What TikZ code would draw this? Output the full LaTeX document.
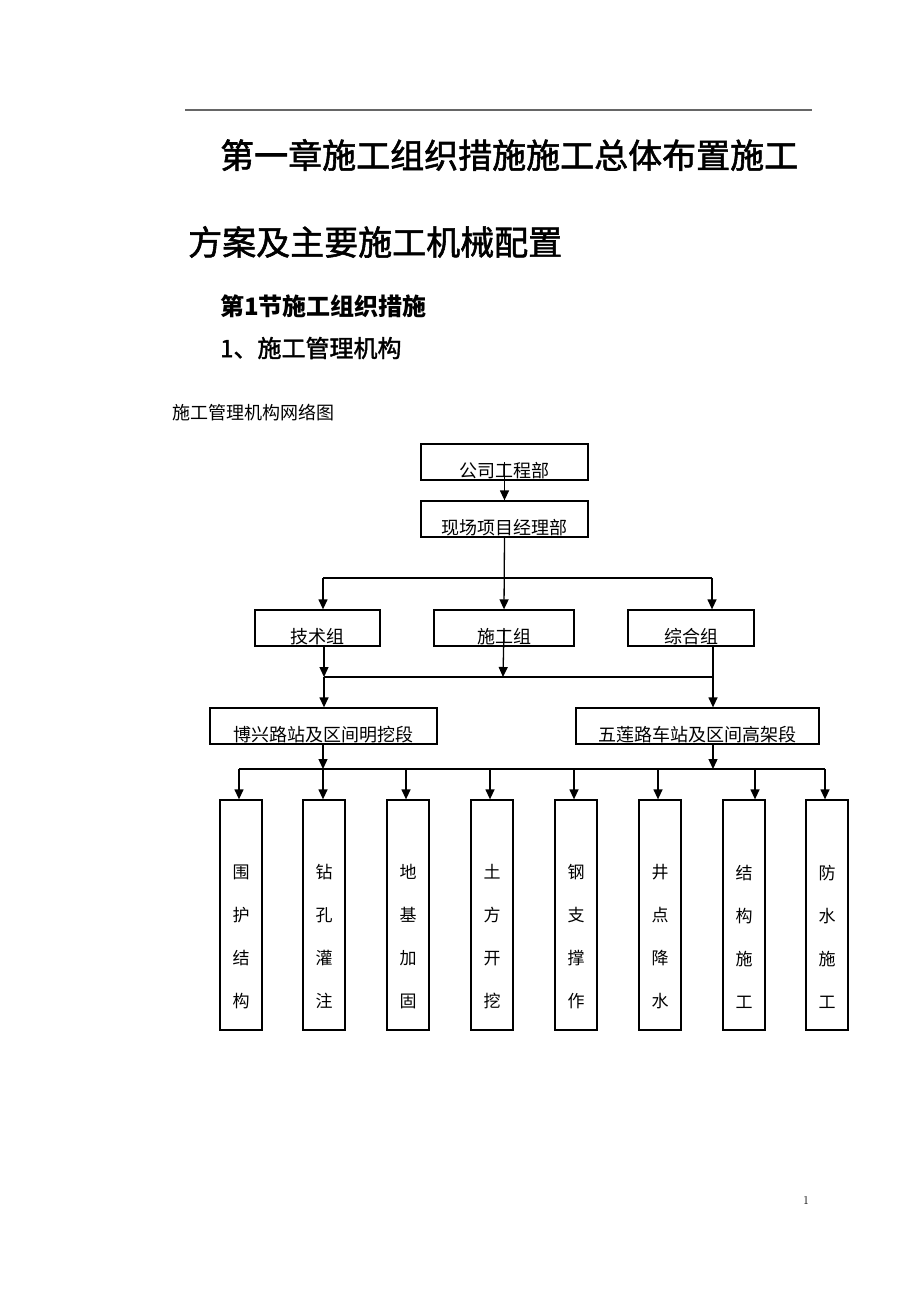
\documentclass[tikz,border=0pt]{standalone}
\usepackage{fontspec}
\newfontfamily\cjk{Noto Sans CJK SC}
\newfontfamily\cjkheavy[FakeBold=1.6]{Noto Sans CJK SC}
\usetikzlibrary{arrows.meta}
\newlength{\du}
\setlength{\du}{1pt}
\definecolor{dialinecolor}{rgb}{0.000000, 0.000000, 0.000000}
\definecolor{rulecolor}{rgb}{0.400000, 0.400000, 0.400000}
\tikzset{
  dialine/.style={draw=dialinecolor, line width=1.300000\du},
  diaarrow/.style={dialine, -{Triangle[width=9pt,length=10pt]}},
  diabox/.style={draw=dialinecolor, line width=1.300000\du, inner sep=0pt, text height=33\du, text depth=3\du, minimum height=36\du, font=\cjk\fontsize{18}{18}\selectfont},
  diacol/.style={draw=dialinecolor, line width=1.300000\du, inner sep=0pt, minimum width=42\du, minimum height=230\du},
  diacoltext/.style={inner sep=0pt, align=center, font=\cjk\fontsize{17}{43}\selectfont},
  diahead/.style={anchor=west, inner sep=0pt}
}
\begin{document}
\begin{tikzpicture}
\pgftransformxscale{1.000000}
\pgftransformyscale{-1.000000}
\useasboundingbox (0\du,0\du) rectangle (920\du,1302\du);
% page rule
\draw[draw=rulecolor, line width=2.000000\du] (185\du,110\du)--(812\du,110\du);
% setfont left to latex
\node[diahead] (title1) at (220\du,155\du){\cjkheavy\fontsize{34}{34}\selectfont 第一章施工组织措施施工总体布置施工};
\node[diahead] (title2) at (188\du,242\du){\cjkheavy\fontsize{34}{34}\selectfont 方案及主要施工机械配置};
\node[diahead] (sect1) at (220\du,306\du){\cjk\bfseries\fontsize{24}{24}\selectfont 第1节施工组织措施};
\node[diahead] (sect2) at (220\du,348\du){\cjkheavy\fontsize{24}{24}\selectfont 1、施工管理机构};
\node[diahead] (caption) at (172\du,413\du){\cjk\fontsize{18}{18}\selectfont 施工管理机构网络图};
\node (pagenum) at (806\du,1200\du){\fontsize{12}{12}\selectfont 1};
% boxes
\node[diabox, minimum width=167\du] (gongsi) at (504.5\du,462\du){公司工程部};
\node[diabox, minimum width=167\du] (xianchang) at (504.5\du,519\du){现场项目经理部};
\node[diabox, minimum width=125\du] (jishu) at (317.5\du,628\du){技术组};
\node[diabox, minimum width=140\du] (shigong) at (504\du,628\du){施工组};
\node[diabox, minimum width=126\du] (zonghe) at (691\du,628\du){综合组};
\node[diabox, minimum width=227\du] (boxing) at (323.5\du,726\du){博兴路站及区间明挖段};
\node[diabox, minimum width=243\du] (wulian) at (697.5\du,726\du){五莲路车站及区间高架段};
\node[diacol] (col1) at (241\du,915\du){};
\node[diacoltext] (txt1) at (241\du,936.5\du){围\\护\\结\\构};
\node[diacol] (col2) at (324\du,915\du){};
\node[diacoltext] (txt2) at (324\du,936.5\du){钻\\孔\\灌\\注};
\node[diacol] (col3) at (408\du,915\du){};
\node[diacoltext] (txt3) at (408\du,936.5\du){地\\基\\加\\固};
\node[diacol] (col4) at (492\du,915\du){};
\node[diacoltext] (txt4) at (492\du,936.5\du){土\\方\\开\\挖};
\node[diacol] (col5) at (576\du,915\du){};
\node[diacoltext] (txt5) at (576\du,936.5\du){钢\\支\\撑\\作};
\node[diacol] (col6) at (660\du,915\du){};
\node[diacoltext] (txt6) at (660\du,936.5\du){井\\点\\降\\水};
\node[diacol] (col7) at (744\du,915\du){};
\node[diacoltext] (txt7) at (744\du,936.5\du){结\\构\\施\\工};
\node[diacol] (col8) at (827\du,915\du){};
\node[diacoltext] (txt8) at (827\du,936.5\du){防\\水\\施\\工};
% bus points
\coordinate (busaleft) at (323\du,578\du);
\coordinate (busaright) at (712\du,578\du);
\coordinate (busbleft) at (324\du,677\du);
\coordinate (busbmid) at (503\du,677\du);
\coordinate (busbright) at (713\du,677\du);
\coordinate (busc1) at (239\du,769\du);
\coordinate (busc2) at (323\du,769\du);
\coordinate (busc3) at (406\du,769\du);
\coordinate (busc4) at (490\du,769\du);
\coordinate (busc5) at (574\du,769\du);
\coordinate (busc6) at (658\du,769\du);
\coordinate (buscmid) at (713\du,769\du);
\coordinate (busc7) at (755\du,769\du);
\coordinate (busc8) at (825\du,769\du);
% connectors
\draw[diaarrow] (gongsi.center)--(xianchang.north);
\draw[diaarrow] (xianchang.south)--(shigong.north);
\draw[dialine] (busaleft)--(busaright);
\draw[diaarrow] (busaleft)--(busaleft |- jishu.north);
\draw[diaarrow] (busaright)--(busaright |- zonghe.north);
\draw[diaarrow] (busbleft |- jishu.south)--(busbleft);
\draw[diaarrow] (shigong.center)--(busbmid);
\draw[dialine] (busbleft)--(busbright);
\draw[diaarrow] (busbright |- zonghe.south)--(busbright |- wulian.north);
\draw[diaarrow] (busbleft)--(busbleft |- boxing.north);
\draw[diaarrow] (busc2 |- boxing.south)--(busc2);
\draw[diaarrow] (buscmid |- wulian.south)--(buscmid);
\draw[dialine] (busc1)--(busc8);
\draw[diaarrow] (busc1)--(busc1 |- col1.north);
\draw[diaarrow] (busc2)--(busc2 |- col2.north);
\draw[diaarrow] (busc3)--(busc3 |- col3.north);
\draw[diaarrow] (busc4)--(busc4 |- col4.north);
\draw[diaarrow] (busc5)--(busc5 |- col5.north);
\draw[diaarrow] (busc6)--(busc6 |- col6.north);
\draw[diaarrow] (busc7)--(busc7 |- col7.north);
\draw[diaarrow] (busc8)--(busc8 |- col8.north);
\end{tikzpicture}
\end{document}
